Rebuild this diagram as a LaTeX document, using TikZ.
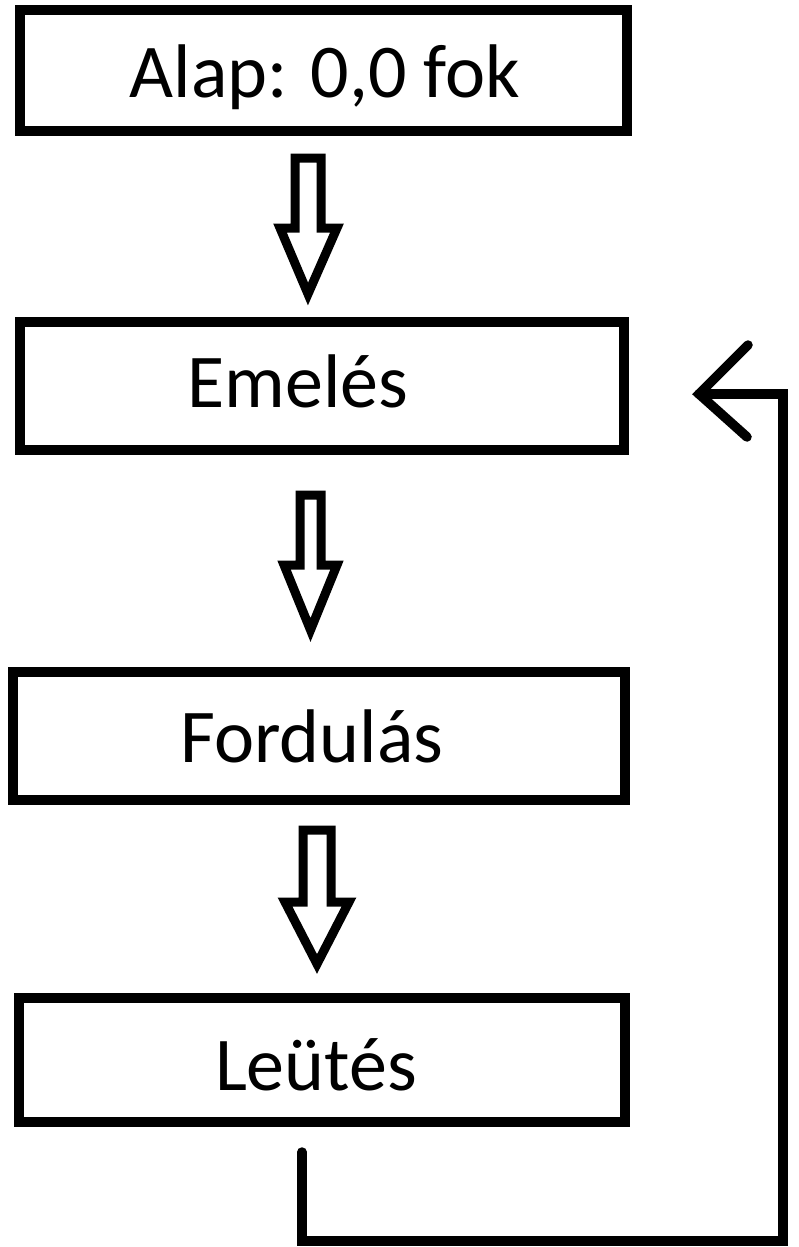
\documentclass[tikz,border=0pt]{standalone}
\usepackage{fontspec}
\setmainfont{Carlito}
\begin{document}
\begin{tikzpicture}[x=1pt,y=-1pt,
  box/.style={draw=black,line width=10pt,rectangle,inner sep=0pt,fill=white},
  txt/.style={font=\fontsize{76}{80}\selectfont,inner sep=0pt,anchor=base},
  blockarrow/.style={draw=black,line width=9pt,line join=miter},
  loopline/.style={draw=black,line width=9.5pt,line cap=round,line join=miter}]
\useasboundingbox[fill=white] (0,0) rectangle (798,1247);
% boxes
\node[box,minimum width=607pt,minimum height=121pt] (b1) at (323.5,70.5) {};
\node[box,minimum width=604pt,minimum height=128pt] (b2) at (322,386) {};
\node[box,minimum width=612pt,minimum height=128pt] (b3) at (319,736) {};
\node[box,minimum width=606pt,minimum height=124pt] (b4) at (322,1060) {};
% texts
\node[txt] (t1) at (325,97) {Alap: 0,0 fok};
\node[txt] (t2) at (298,407) {Emelés};
\node[txt] (t3) at (312,762) {Fordulás};
\node[txt] (t4) at (316,1090) {Leütés};
% block arrows
\draw[blockarrow] (295,158) -- (321,158) -- (321,228) -- (337,228) -- (308,294) -- (280,228) -- (295,228) -- cycle;
\draw[blockarrow] (300,495) -- (321,495) -- (321,565) -- (337,565) -- (310.5,630) -- (284,565) -- (300,565) -- cycle;
\draw[blockarrow] (303,830) -- (331,830) -- (331,902) -- (349,902) -- (317,964) -- (285,902) -- (303,902) -- cycle;
% loop back
\coordinate (ls) at (302,1152);
\coordinate (lb) at (302,1241);
\coordinate (lr) at (783,1241);
\coordinate (lt) at (783,394);
\coordinate (tip) at (699,394);
\draw[loopline] (ls) -- (lb) -- (lr) -- (lt) -- (tip);
\draw[loopline] (748,345) -- (tip) -- (747,437);
\end{tikzpicture}
\end{document}
